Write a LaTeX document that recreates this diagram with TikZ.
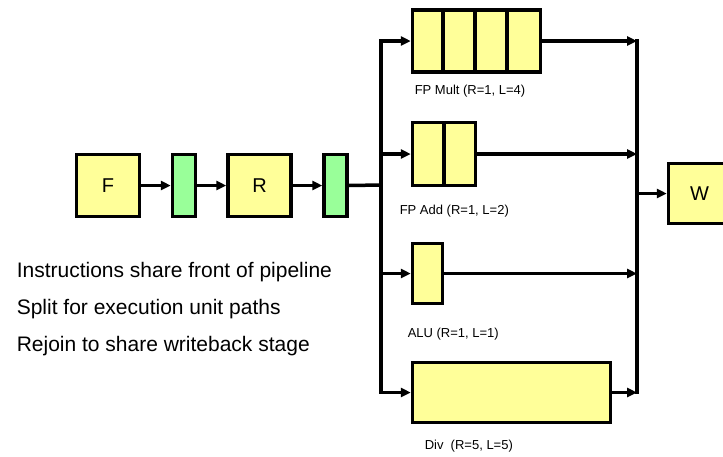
\documentclass[tikz,border=0pt]{standalone}
\usepackage{fontspec}
\setmainfont{Liberation Sans}
\usetikzlibrary{arrows.meta}
\definecolor{stageyellow}{HTML}{FFFF99}
\definecolor{latchgreen}{HTML}{99FF99}
\begin{document}
\begin{tikzpicture}[x=1pt,y=-1pt,line width=3.5pt,
  box/.style={draw=black,fill=stageyellow,inner sep=0pt,font=\fontsize{20}{24}\selectfont},
  latch/.style={draw=black,fill=latchgreen,inner sep=0pt,minimum width=23pt,minimum height=62pt},
  arrow/.style={-{Triangle[length=10pt,width=9pt]}},
  bus/.style={line cap=rect},
  unitlabel/.style={anchor=base west,inner sep=0pt,font=\fontsize{13}{15}\selectfont},
  note/.style={anchor=base west,inner sep=0pt,font=\fontsize{21}{25}\selectfont}]
\useasboundingbox (0,0) rectangle (723,456);

% front of pipeline
\node[box,minimum width=63pt,minimum height=62pt] (F) at (108,185.5) {F};
\node[latch] (G1) at (184,185.5) {};
\node[box,minimum width=63pt,minimum height=62pt] (R) at (259.5,185.5) {R};
\node[latch] (G2) at (335.5,185.5) {};

% execution units
\node[box,minimum width=128pt,minimum height=62pt] (Mult) at (476.5,41) {};
\foreach \i in {1,2,3}
  \draw ([xshift=\i*32pt]Mult.north west) -- ([xshift=\i*32pt]Mult.south west);
\node[box,minimum width=63pt,minimum height=63pt] (Add) at (444,154) {};
\draw (Add.north) -- (Add.south);
\node[box,minimum width=30pt,minimum height=60pt] (ALU) at (427.5,273.5) {};
\node[box,minimum width=198pt,minimum height=60pt] (Div) at (511.5,392.5) {};

% writeback
\node[box,minimum width=62pt,minimum height=60pt] (W) at (699.5,193.5) {W};

% bus coordinates
\coordinate (bl) at (381,185);
\coordinate (br) at (637,193.5);

% front connections
\draw[arrow] (F) -- (G1);
\draw[arrow] (G1) -- (R);
\draw[arrow] (R) -- (G2);
\draw (G2.east) -- (bl);

% split bus
\draw[bus] (bl |- Mult.west) -- (bl |- Div.west);
\foreach \u in {Mult,Add,ALU,Div}
  \draw[arrow] (bl |- \u.west) -- (\u.west);

% rejoin bus
\draw[bus] (br |- Mult.east) -- (br |- Div.east);
\foreach \u in {Mult,Add,ALU,Div}
  \draw[arrow] (\u.east) -- (br |- \u.east);
\draw[arrow] (br) -- (W.west);

% unit labels
\node[unitlabel] (lMult) at (413,94) {FP Mult (R=1, L=4)};
\node[unitlabel] (lAdd) at (398,214) {FP Add (R=1, L=2)};
\node[unitlabel] (lALU) at (406,337) {ALU (R=1, L=1)};
\node[unitlabel] (lDiv) at (423,449) {Div\ \ (R=5, L=5)};

% notes
\node[note] (n1) at (15,277) {Instructions share front of pipeline};
\node[note] (n2) at (15,314) {Split for execution unit paths};
\node[note] (n3) at (15,351) {Rejoin to share writeback stage};
\end{tikzpicture}
\end{document}
